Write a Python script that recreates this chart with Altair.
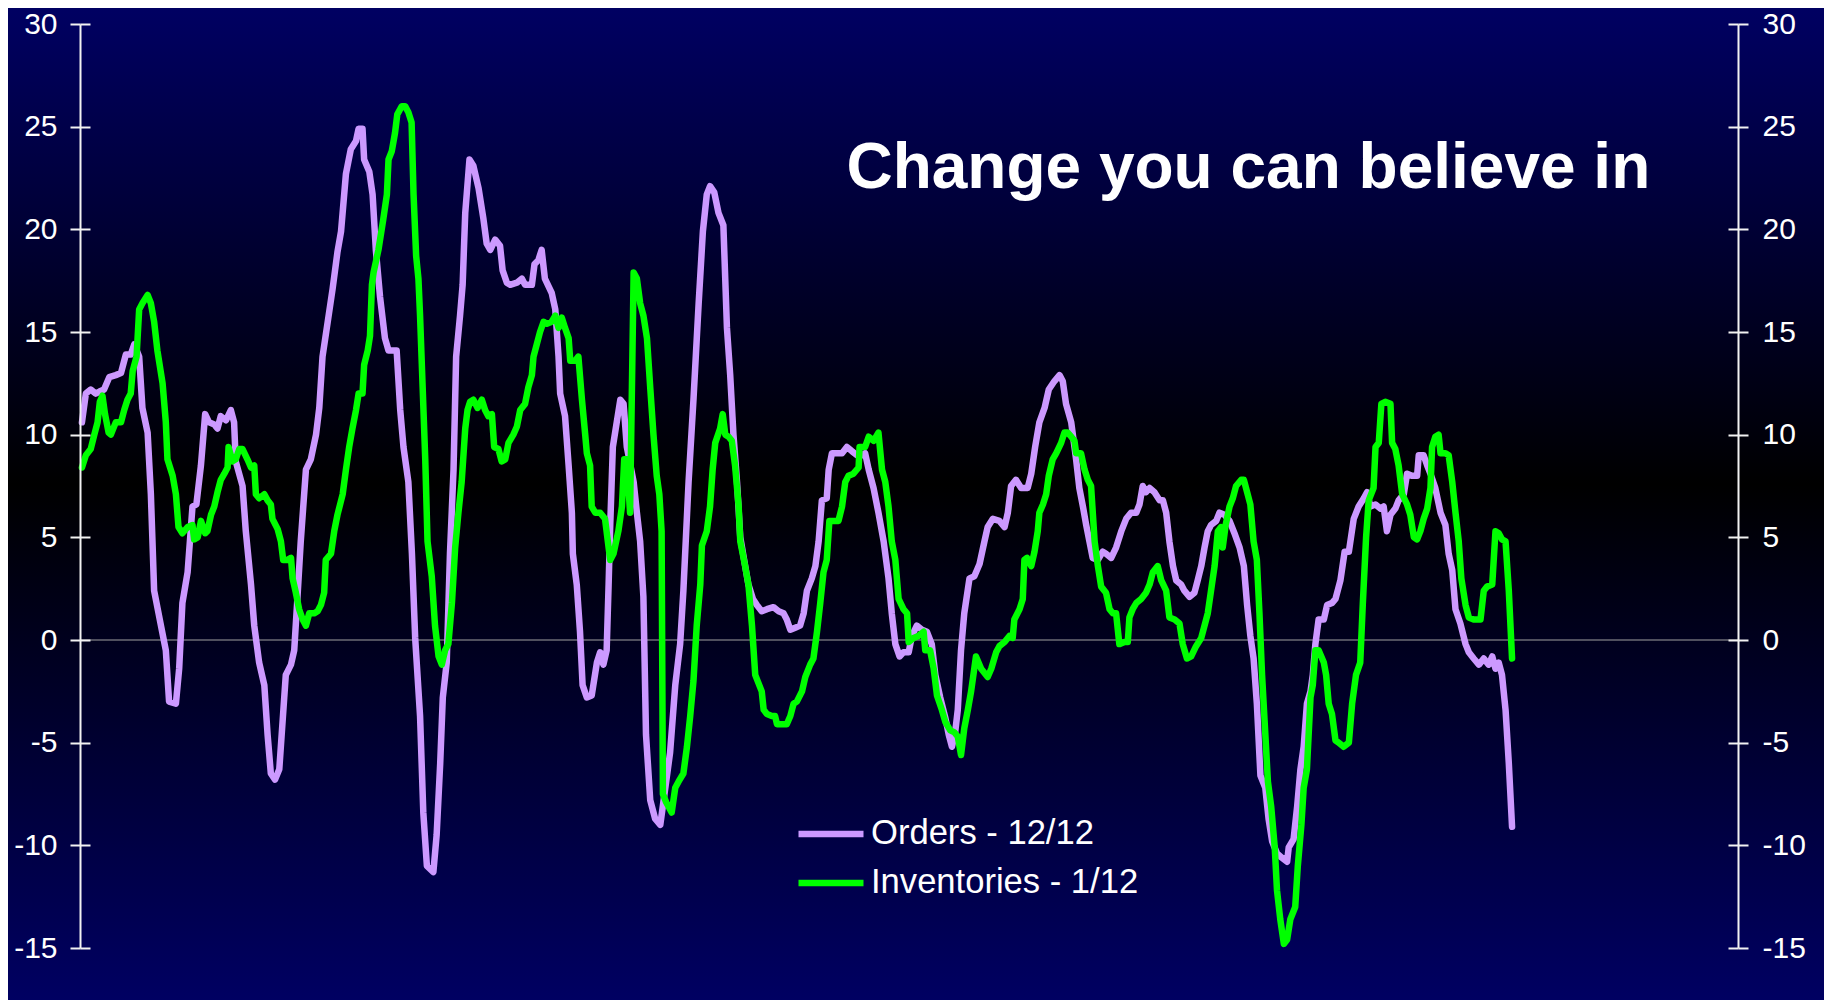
import altair as alt
import pandas as pd

# ---------------- data ----------------
orders_year = [
    1965.06, 1965.18, 1965.33, 1965.48, 1965.6, 1965.74, 1965.9, 1966.1, 1966.26, 1966.41,
    1966.56, 1966.67, 1966.82, 1966.92, 1967.08, 1967.18, 1967.28, 1967.49, 1967.64, 1967.74,
    1967.95, 1968.05, 1968.15, 1968.31, 1968.46, 1968.58, 1968.72, 1968.85, 1968.97, 1969.13,
    1969.23, 1969.33, 1969.49, 1969.64, 1969.74, 1969.79, 1970.0, 1970.1, 1970.26, 1970.36,
    1970.51, 1970.67, 1970.77, 1970.87, 1971.0, 1971.13, 1971.23, 1971.33, 1971.49, 1971.59,
    1971.69, 1971.79, 1971.95, 1972.1, 1972.26, 1972.36, 1972.46, 1972.62, 1972.77, 1972.92,
    1973.03, 1973.18, 1973.33, 1973.49, 1973.57, 1973.69, 1973.74, 1973.9, 1974.0, 1974.1,
    1974.23, 1974.38, 1974.49, 1974.74, 1974.85, 1974.95, 1975.1, 1975.21, 1975.31, 1975.46,
    1975.56, 1975.67, 1975.87, 1975.97, 1976.08, 1976.16, 1976.28, 1976.38, 1976.49, 1976.57,
    1976.69, 1976.77, 1976.85, 1976.98, 1977.1, 1977.26, 1977.41, 1977.51, 1977.62, 1977.77,
    1977.92, 1978.0, 1978.13, 1978.23, 1978.44, 1978.59, 1978.69, 1978.9, 1978.98, 1979.1,
    1979.2, 1979.3, 1979.51, 1979.62, 1979.72, 1979.77, 1979.92, 1980.03, 1980.13, 1980.16,
    1980.28, 1980.38, 1980.46, 1980.59, 1980.74, 1980.9, 1981.0, 1981.1, 1981.2, 1981.26,
    1981.31, 1981.39, 1981.51, 1981.62, 1981.72, 1981.82, 1982.03, 1982.13, 1982.23, 1982.33,
    1982.41, 1982.54, 1982.69, 1982.85, 1982.97, 1983.15, 1983.31, 1983.46, 1983.56, 1983.72,
    1983.87, 1984.03, 1984.16, 1984.28, 1984.38, 1984.51, 1984.64, 1984.79, 1984.9, 1985.0,
    1985.1, 1985.21, 1985.31, 1985.46, 1985.56, 1985.7, 1985.82, 1985.97, 1986.13, 1986.33,
    1986.49, 1986.64, 1986.74, 1986.85, 1987.0, 1987.15, 1987.26, 1987.36, 1987.51, 1987.62,
    1987.72, 1987.82, 1987.97, 1988.03, 1988.13, 1988.28, 1988.44, 1988.59, 1988.74, 1988.9,
    1989.05, 1989.15, 1989.26, 1989.41, 1989.56, 1989.72, 1989.87, 1989.97, 1990.08, 1990.21,
    1990.33, 1990.49, 1990.59, 1990.74, 1990.9, 1991.05, 1991.2, 1991.31, 1991.46, 1991.62,
    1991.72, 1991.82, 1991.92, 1992.0, 1992.1, 1992.2, 1992.36, 1992.51, 1992.67, 1992.82,
    1992.92, 1993.08, 1993.28, 1993.44, 1993.54, 1993.64, 1993.79, 1993.95, 1994.15, 1994.26,
    1994.38, 1994.51, 1994.67, 1994.8, 1994.97, 1995.13, 1995.23, 1995.33, 1995.49, 1995.64,
    1995.74, 1995.85, 1995.95, 1996.05, 1996.15, 1996.31, 1996.46, 1996.56, 1996.72, 1996.87,
    1997.03, 1997.18, 1997.33, 1997.49, 1997.59, 1997.69, 1997.79, 1997.9, 1998.05, 1998.21,
    1998.31, 1998.41, 1998.51, 1998.62, 1998.72, 1998.87, 1998.97, 1999.13, 1999.28, 1999.38,
    1999.49, 1999.59, 1999.69, 1999.79, 1999.95, 2000.05, 2000.2, 2000.36, 2000.51, 2000.67,
    2000.8, 2000.9, 2001.0, 2001.1, 2001.2, 2001.31, 2001.46, 2001.56, 2001.67, 2001.82,
    2001.97, 2002.13, 2002.18, 2002.33, 2002.44, 2002.54, 2002.64, 2002.74, 2002.85, 2002.92,
    2003.0, 2003.1, 2003.26, 2003.36, 2003.51, 2003.62, 2003.77, 2003.9, 2004.03, 2004.18,
    2004.33, 2004.49, 2004.59, 2004.69, 2004.85, 2005.0, 2005.1, 2005.2, 2005.31, 2005.46,
    2005.56, 2005.72, 2005.82, 2005.97, 2006.13, 2006.18, 2006.33, 2006.44, 2006.54, 2006.69,
    2006.85, 2007.0, 2007.1, 2007.21, 2007.31, 2007.46, 2007.62, 2007.72, 2007.87, 2008.03,
    2008.18, 2008.33, 2008.44, 2008.54, 2008.64, 2008.74, 2008.85, 2008.95, 2009.05,
]
orders_value = [
    10.6, 12.0, 12.2, 12.0, 12.1, 12.2, 12.8, 12.9, 13.0, 13.9,
    13.9, 14.4, 13.8, 11.3, 10.1, 7.1, 2.4, 0.7, -0.5, -3.0,
    -3.1, -1.4, 1.8, 3.3, 6.5, 6.6, 8.5, 11.0, 10.6, 10.5,
    10.3, 10.9, 10.7, 11.2, 10.6, 8.7, 7.5, 5.3, 2.7, 0.7,
    -1.1, -2.2, -4.6, -6.5, -6.8, -6.3, -4.0, -1.7, -1.2, -0.5,
    2.1, 4.8, 8.3, 8.8, 10.0, 11.3, 13.8, 15.5, 17.1, 18.9,
    19.9, 22.7, 23.9, 24.3, 24.9, 24.9, 23.4, 22.8, 21.7, 19.0,
    16.7, 14.7, 14.1, 14.1, 11.2, 9.4, 7.7, 4.2, 0.1, -3.7,
    -8.4, -11.0, -11.3, -9.5, -6.0, -2.8, -1.1, 4.2, 8.3, 13.8,
    15.8, 17.3, 20.8, 23.4, 23.1, 22.0, 20.5, 19.3, 19.0, 19.5,
    19.2, 18.0, 17.4, 17.3, 17.4, 17.6, 17.3, 17.3, 18.3, 18.5,
    19.0, 17.6, 16.9, 16.1, 13.8, 12.0, 10.9, 8.5, 6.2, 4.2,
    2.7, 0.4, -2.2, -2.8, -2.7, -1.1, -0.6, -1.2, -0.5, 2.7,
    5.6, 9.4, 10.6, 11.7, 11.5, 9.4, 7.7, 6.2, 4.8, 2.1,
    -4.6, -7.8, -8.7, -9.0, -7.6, -5.5, -2.2, -0.2, 2.4, 7.7,
    11.7, 16.4, 19.9, 21.7, 22.1, 21.8, 20.8, 20.2, 15.2, 12.9,
    10.0, 7.7, 5.0, 3.6, 2.7, 2.0, 1.7, 1.4, 1.5, 1.6,
    1.4, 1.3, 1.0, 0.5, 0.6, 0.7, 1.3, 2.4, 3.0, 3.6,
    4.8, 6.8, 6.9, 8.3, 9.1, 9.1, 9.1, 9.4, 9.2, 9.0,
    9.0, 9.1, 8.3, 7.4, 6.2, 4.8, 3.0, 1.3, -0.2, -0.8,
    -0.6, -0.6, 0.2, 0.7, 0.5, 0.4, -0.2, -1.7, -2.8, -3.8,
    -4.6, -5.2, -4.5, -3.4, -0.5, 1.3, 3.0, 3.1, 3.7, 4.8,
    5.5, 5.9, 5.8, 5.5, 6.2, 7.5, 7.8, 7.4, 7.4, 8.1,
    9.4, 10.6, 11.3, 12.2, 12.6, 12.9, 12.6, 11.5, 10.6, 8.8,
    7.4, 6.5, 5.6, 4.8, 4.0, 3.9, 4.3, 4.2, 4.0, 4.5,
    5.3, 5.9, 6.2, 6.2, 6.6, 7.5, 7.2, 7.4, 7.2, 6.8,
    6.8, 6.2, 4.8, 3.6, 2.9, 2.7, 2.4, 2.1, 2.3, 2.9,
    3.6, 4.5, 5.3, 5.6, 5.8, 6.2, 6.1, 5.8, 5.2, 4.5,
    3.6, 1.7, 0.2, -0.9, -3.1, -6.6, -7.2, -8.7, -9.8, -10.4,
    -10.6, -10.8, -10.1, -9.7, -8.1, -6.3, -5.2, -3.1, -2.5, -1.7,
    -0.2, 1.0, 1.0, 1.7, 1.8, 2.0, 2.9, 4.3, 4.3, 5.9,
    6.5, 6.9, 7.2, 6.5, 6.6, 6.4, 6.5, 5.3, 6.1, 6.4,
    6.8, 7.1, 8.1, 8.0, 8.0, 9.0, 9.0, 8.5, 8.1, 7.4,
    6.2, 5.6, 4.2, 3.4, 1.5, 0.8, -0.2, -0.6, -0.9, -1.2,
    -0.9, -1.2, -0.8, -1.4, -1.1, -1.7, -3.4, -6.0, -9.1,
]

inv_year = [
    1965.06, 1965.18, 1965.33, 1965.44, 1965.54, 1965.61, 1965.69, 1965.77, 1965.88, 1965.95,
    1966.1, 1966.26, 1966.36, 1966.46, 1966.56, 1966.62, 1966.74, 1966.82, 1966.92, 1967.08,
    1967.18, 1967.28, 1967.38, 1967.54, 1967.64, 1967.69, 1967.85, 1967.95, 1968.03, 1968.15,
    1968.31, 1968.46, 1968.51, 1968.62, 1968.72, 1968.85, 1968.92, 1969.03, 1969.13, 1969.23,
    1969.33, 1969.44, 1969.54, 1969.57, 1969.69, 1969.79, 1969.9, 1970.0, 1970.15, 1970.26,
    1970.36, 1970.41, 1970.51, 1970.67, 1970.77, 1970.87, 1970.92, 1971.08, 1971.18, 1971.25,
    1971.38, 1971.49, 1971.54, 1971.64, 1971.74, 1971.85, 1971.95, 1972.05, 1972.2, 1972.31,
    1972.41, 1972.51, 1972.56, 1972.72, 1972.82, 1972.92, 1973.08, 1973.18, 1973.28, 1973.38,
    1973.49, 1973.57, 1973.69, 1973.74, 1973.85, 1973.92, 1973.98, 1974.03, 1974.18, 1974.33,
    1974.44, 1974.49, 1974.59, 1974.69, 1974.76, 1974.9, 1975.0, 1975.1, 1975.2, 1975.26,
    1975.34, 1975.41, 1975.46, 1975.54, 1975.62, 1975.69, 1975.82, 1975.92, 1976.03, 1976.13,
    1976.23, 1976.33, 1976.44, 1976.54, 1976.64, 1976.74, 1976.85, 1976.92, 1977.0, 1977.1,
    1977.23, 1977.36, 1977.46, 1977.56, 1977.67, 1977.74, 1977.87, 1977.97, 1978.08, 1978.18,
    1978.33, 1978.44, 1978.54, 1978.69, 1978.79, 1978.9, 1978.95, 1979.05, 1979.15, 1979.26,
    1979.36, 1979.51, 1979.62, 1979.72, 1979.82, 1979.92, 1980.03, 1980.08, 1980.23, 1980.33,
    1980.44, 1980.54, 1980.59, 1980.69, 1980.74, 1980.85, 1981.0, 1981.15, 1981.26, 1981.31,
    1981.41, 1981.56, 1981.67, 1981.74, 1981.82, 1981.92, 1982.03, 1982.13, 1982.23, 1982.33,
    1982.44, 1982.54, 1982.64, 1982.74, 1982.82, 1982.89, 1982.93, 1983.03, 1983.1, 1983.2,
    1983.31, 1983.41, 1983.56, 1983.67, 1983.77, 1983.87, 1983.97, 1984.08, 1984.13, 1984.28,
    1984.38, 1984.46, 1984.54, 1984.69, 1984.77, 1984.85, 1984.95, 1985.05, 1985.15, 1985.26,
    1985.31, 1985.46, 1985.56, 1985.67, 1985.77, 1985.87, 1985.97, 1986.03, 1986.13, 1986.28,
    1986.38, 1986.44, 1986.59, 1986.74, 1986.85, 1986.95, 1987.05, 1987.21, 1987.31, 1987.46,
    1987.56, 1987.67, 1987.77, 1987.87, 1987.97, 1988.05, 1988.18, 1988.33, 1988.44, 1988.54,
    1988.64, 1988.79, 1988.95, 1988.98, 1989.15, 1989.26, 1989.41, 1989.56, 1989.67, 1989.77,
    1989.87, 1989.97, 1990.08, 1990.18, 1990.33, 1990.44, 1990.49, 1990.64, 1990.79, 1990.95,
    1991.0, 1991.15, 1991.26, 1991.36, 1991.51, 1991.62, 1991.77, 1991.9, 1992.0, 1992.1,
    1992.2, 1992.31, 1992.41, 1992.56, 1992.72, 1992.92, 1993.03, 1993.18, 1993.28, 1993.44,
    1993.59, 1993.69, 1993.74, 1993.9, 1994.0, 1994.05, 1994.13, 1994.26, 1994.36, 1994.46,
    1994.51, 1994.62, 1994.72, 1994.8, 1994.92, 1995.03, 1995.18, 1995.28, 1995.38, 1995.49,
    1995.59, 1995.64, 1995.79, 1995.9, 1996.0, 1996.1, 1996.21, 1996.31, 1996.41, 1996.56,
    1996.67, 1996.77, 1996.87, 1996.97, 1997.13, 1997.23, 1997.28, 1997.38, 1997.49, 1997.64,
    1997.79, 1997.9, 1998.0, 1998.15, 1998.26, 1998.41, 1998.51, 1998.67, 1998.82, 1998.92,
    1999.05, 1999.18, 1999.33, 1999.49, 1999.59, 1999.69, 1999.79, 1999.9, 2000.0, 2000.1,
    2000.15, 2000.24, 2000.36, 2000.46, 2000.56, 2000.72, 2000.8, 2000.9, 2001.0, 2001.1,
    2001.2, 2001.28, 2001.36, 2001.44, 2001.54, 2001.64, 2001.75, 2001.82, 2001.92, 2002.03,
    2002.13, 2002.23, 2002.38, 2002.46, 2002.57, 2002.64, 2002.74, 2002.85, 2002.92, 2003.0,
    2003.1, 2003.26, 2003.33, 2003.41, 2003.51, 2003.62, 2003.72, 2003.87, 2004.03, 2004.13,
    2004.25, 2004.38, 2004.46, 2004.56, 2004.64, 2004.79, 2004.85, 2004.95, 2005.03, 2005.15,
    2005.31, 2005.36, 2005.46, 2005.56, 2005.67, 2005.82, 2005.92, 2006.03, 2006.13, 2006.23,
    2006.33, 2006.44, 2006.54, 2006.59, 2006.69, 2006.79, 2006.85, 2007.0, 2007.1, 2007.21,
    2007.31, 2007.41, 2007.49, 2007.62, 2007.72, 2007.87, 2007.97, 2008.08, 2008.18, 2008.28,
    2008.44, 2008.54, 2008.64, 2008.74, 2008.85, 2008.95, 2009.05,
]
inv_value = [
    8.4, 9.0, 9.3, 10.0, 10.6, 11.6, 11.9, 11.0, 10.1, 10.0,
    10.6, 10.6, 11.2, 11.7, 12.0, 13.1, 13.8, 16.1, 16.4, 16.8,
    16.4, 15.5, 14.1, 12.5, 10.6, 8.8, 8.0, 7.1, 5.5, 5.2,
    5.5, 5.6, 4.9, 5.0, 5.8, 5.2, 5.3, 6.1, 6.5, 7.2,
    7.8, 8.1, 8.4, 9.4, 8.7, 8.8, 9.3, 9.3, 8.8, 8.4,
    8.5, 7.1, 6.9, 7.1, 6.8, 6.6, 5.9, 5.4, 4.8, 3.9,
    3.9, 4.0, 3.0, 2.3, 1.5, 1.0, 0.7, 1.3, 1.3, 1.4,
    1.7, 2.3, 3.9, 4.2, 5.3, 6.1, 7.1, 8.3, 9.4, 10.3,
    11.2, 12.0, 12.0, 13.4, 14.1, 14.8, 17.3, 17.9, 19.0, 20.5,
    21.7, 23.4, 23.8, 24.7, 25.6, 26.0, 26.0, 25.7, 25.2, 21.7,
    18.7, 17.6, 15.8, 12.3, 8.8, 4.8, 3.1, 0.7, -0.8, -1.2,
    -0.5, -0.2, 1.8, 4.5, 6.2, 7.7, 10.3, 11.2, 11.6, 11.7,
    11.3, 11.7, 11.2, 10.9, 11.0, 9.4, 9.3, 8.7, 8.8, 9.6,
    10.0, 10.4, 11.2, 11.5, 12.3, 12.9, 13.8, 14.4, 15.0, 15.5,
    15.4, 15.5, 15.8, 15.2, 15.7, 15.2, 14.7, 13.6, 13.6, 13.8,
    11.7, 10.0, 9.1, 8.5, 6.5, 6.2, 6.2, 5.9, 4.5, 3.9,
    4.2, 5.3, 6.5, 8.8, 8.8, 6.2, 17.9, 17.6, 16.4, 15.8,
    14.7, 12.3, 10.0, 8.0, 7.1, 5.3, -7.5, -7.9, -8.1, -8.4,
    -7.2, -6.9, -6.5, -5.2, -3.7, -2.0, 0.7, 2.7, 4.6, 5.3,
    6.5, 8.3, 9.6, 10.3, 11.0, 10.0, 9.9, 9.7, 8.5, 6.5,
    4.8, 3.6, 2.7, 0.7, -1.7, -2.1, -2.5, -3.4, -3.6, -3.7,
    -3.7, -4.1, -4.1, -4.1, -3.7, -3.1, -3.0, -2.5, -1.8, -1.2,
    -0.9, 0.4, 1.8, 3.3, 3.9, 5.8, 5.8, 5.8, 6.5, 7.7,
    8.0, 8.1, 8.4, 9.4, 9.4, 9.9, 9.7, 10.1, 8.3, 7.7,
    6.5, 4.8, 3.9, 2.0, 1.5, 1.3, -0.1, 0.1, 0.2, 0.4,
    -0.5, -0.5, -1.4, -2.7, -3.4, -4.0, -4.4, -4.5, -4.7, -5.6,
    -4.3, -3.4, -2.5, -0.8, -1.4, -1.8, -1.4, -0.6, -0.3, -0.1,
    0.2, 0.1, 1.0, 1.5, 2.0, 3.9, 4.0, 3.6, 4.3, 5.3,
    6.2, 6.6, 7.1, 8.0, 8.8, 9.1, 9.6, 10.1, 10.1, 9.9,
    9.7, 9.1, 9.1, 8.3, 7.8, 7.5, 4.8, 3.6, 2.6, 2.3,
    1.5, 1.3, 1.3, -0.2, -0.1, -0.1, 1.1, 1.5, 1.8, 2.0,
    2.3, 2.7, 3.3, 3.6, 2.9, 2.4, 1.1, 1.0, 0.8, -0.2,
    -0.9, -0.8, -0.3, 0.1, 0.7, 1.3, 2.4, 3.6, 5.3, 5.5,
    4.5, 5.6, 6.5, 6.9, 7.5, 7.8, 7.8, 7.2, 6.6, 4.8,
    3.9, 1.3, -1.7, -4.0, -6.9, -8.1, -10.1, -12.2, -13.6, -14.8,
    -14.6, -13.6, -13.0, -11.0, -9.0, -7.2, -6.3, -2.8, -2.2, -0.5,
    -0.5, -1.1, -1.7, -3.1, -3.6, -4.9, -5.0, -5.2, -5.0, -3.1,
    -1.7, -1.1, 1.8, 5.0, 6.8, 7.4, 9.4, 9.6, 11.5, 11.6,
    11.5, 9.6, 9.3, 8.5, 7.1, 6.6, 6.1, 5.0, 4.9, 5.3,
    5.9, 6.4, 7.4, 9.4, 9.9, 10.0, 9.1, 9.1, 9.0, 7.7,
    6.2, 4.8, 3.0, 1.7, 1.1, 1.0, 1.0, 1.0, 2.4, 2.6,
    2.7, 5.3, 5.2, 4.9, 4.8, 2.4, -0.9,
]

series_names = ["Orders - 12/12", "Inventories - 1/12"]
series_colors = ["#CC99FF", "#00FF00"]
x_ticks = list(range(1965, 2017))
y_ticks = list(range(-15, 31, 5))
title_text = "Change you can believe in"
title_year, title_value = 2013.3, 22.0

# ---------------- layout ----------------
W, H = 1658, 924          # plot area
PL, PT = 72, 16           # padding left / top
TW, TH = 1816, 992        # whole chart
PR, PB = TW - PL - W, TH - PT - H
FONT = "Liberation Sans"
AXIS_COLOR = "#F2F2F2"
LINE_W = 6.5

df_o = pd.DataFrame({"year": orders_year, "value": orders_value, "series": series_names[0]})
df_i = pd.DataFrame({"year": inv_year, "value": inv_value, "series": series_names[1]})

x_scale = alt.Scale(domain=[1965, 2016], nice=False, zero=False)
y_scale = alt.Scale(domain=[-15, 30], nice=False, zero=False)
color_scale = alt.Scale(domain=series_names, range=series_colors)

ycommon = dict(values=y_ticks, grid=False, zindex=1, title=None, tickColor=AXIS_COLOR,
               tickWidth=2, tickSize=10, domainColor=AXIS_COLOR, domainWidth=2,
               labelColor="#FFFFFF", labelFont=FONT, labelFontSize=30,
               labelExpr="datum.value + ''", labelFlush=False, labelOverlap=False)

left_outer = alt.Axis(orient="left", labelPadding=13, **ycommon)
left_inner = alt.Axis(orient="left", offset=-10, labels=False, domain=False, **ycommon)
right_outer = alt.Axis(orient="right", labelPadding=14, **ycommon)
right_inner = alt.Axis(orient="right", offset=-10, labels=False, domain=False, **ycommon)

x_axis = alt.Axis(orient="bottom", values=x_ticks, grid=False, zindex=1, title=None,
                  tickColor=AXIS_COLOR, tickWidth=2, tickSize=9, domainColor=AXIS_COLOR,
                  domainWidth=2, labelColor="#FFFFFF", labelFont=FONT, labelFontSize=31,
                  labelPadding=21, labelFlush=False, labelOverlap=False,
                  labelExpr="datum.value % 5 == 0 ? datum.value + '' : ''")

legend = alt.Legend(title=None, orient="none", legendX=715, legendY=786.5, direction="vertical",
                    symbolType="stroke", symbolSize=4225, symbolStrokeWidth=LINE_W,
                    labelFont=FONT, labelFontSize=34.6, labelColor="#FFFFFF",
                    labelOffset=4, labelLimit=800, clipHeight=47, rowPadding=2, padding=0)

gradient = alt.LinearGradient(
    gradient="linear", x1=0, x2=0, y1=0, y2=1,
    stops=[alt.GradientStop(color="#000062", offset=0),
           alt.GradientStop(color="#000000", offset=0.48),
           alt.GradientStop(color="#000062", offset=1)],
)

bg = alt.Chart(pd.DataFrame({"k": [0]})).mark_rect(fill=gradient, strokeWidth=0).encode(
    x=alt.value(-PL), x2=alt.value(W + PR), y=alt.value(-PT), y2=alt.value(H + PB)
)

zero = alt.Chart(pd.DataFrame({"k": [0]})).mark_rule(color="#A0A0A0", strokeWidth=1).encode(
    y=alt.YDatum(0, type="quantitative", scale=y_scale, axis=left_outer)
)

line_kw = dict(strokeWidth=LINE_W, strokeJoin="round", strokeCap="round")

orders = alt.Chart(df_o).mark_line(**line_kw).encode(
    x=alt.X("year:Q", scale=x_scale, axis=x_axis),
    y=alt.Y("value:Q", scale=y_scale, axis=left_inner),
    color=alt.Color("series:N", scale=color_scale, legend=legend),
)

inventories = alt.Chart(df_i).mark_line(**line_kw).encode(
    x=alt.X("year:Q", scale=x_scale, axis=None),
    y=alt.Y("value:Q", scale=y_scale, axis=right_outer),
    color=alt.Color("series:N", scale=color_scale, legend=legend),
)

title = alt.Chart(pd.DataFrame({"t": [title_text]})).mark_text(
    font=FONT, fontWeight="bold", fontSize=64, color="#FFFFFF",
    align="right", baseline="alphabetic"
).encode(
    x=alt.XDatum(title_year, type="quantitative", scale=x_scale, axis=None),
    y=alt.YDatum(title_value, type="quantitative", scale=y_scale, axis=right_inner),
    text="t:N",
)

chart = (
    alt.layer(bg, zero, orders, inventories, title)
    .resolve_axis(y="independent")
    .properties(
        width=W, height=H,
        autosize=alt.AutoSizeParams(type="none"),
        padding={"left": PL, "top": PT, "right": PR, "bottom": PB},
        background="#000062",
    )
    .configure_view(stroke=None)
)

chart.save("out.html", embed_options={"renderer": "svg", "actions": False})
